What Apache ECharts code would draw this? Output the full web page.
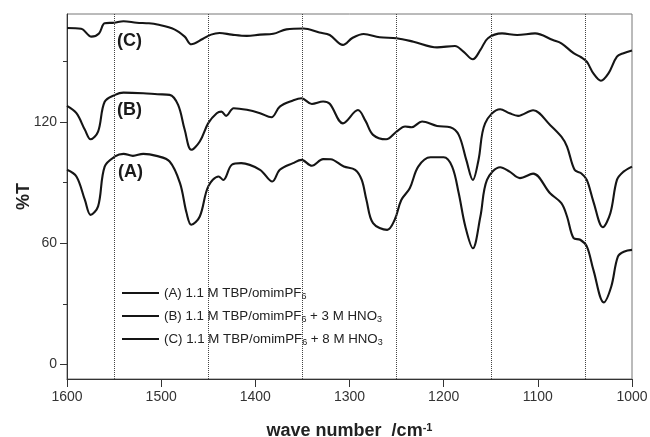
<!DOCTYPE html>
<html>
<head>
<meta charset="utf-8">
<script src="https://cdn.jsdelivr.net/npm/echarts@6/dist/echarts.min.js"></script>
<style>
html,body{margin:0;padding:0;background:#fff;}
#c{width:650px;height:437px;}
</style>
</head>
<body>
<div id="c"></div>
<script>
// ---- data ----
var xTicks = [1600, 1500, 1400, 1300, 1200, 1100, 1000];
var yMajorTicks = [0, 60, 120];
var yMinorTicks = [30, 90, 150];
var refLines = [1550, 1450, 1350, 1250, 1150, 1050];

var seriesNames = ['A', 'B', 'C'];

var aWave = [1600,1590,1581,1575,1567,1560,1549,1540,1530,1519,1505,1491,1480,1473,1468,1459,1450,1439,1434,1425,1415,1395,1382,1374,1360,1351,1340,1328,1320,1306,1294,1287,1282,1275,1260,1252,1245,1236,1227,1214,1200,1191,1184,1177,1169,1161,1154,1140,1130,1119,1105,1087,1075,1069,1062,1055,1048,1041,1030,1022,1015,1008,1000];
var aT    = [96.3,93,81.4,74,78.2,97.9,102.9,104.2,103.2,104.2,103.2,100.4,89.7,74.9,69.1,73.2,88.1,93,91.3,98.8,99.6,96.3,90.5,96.3,99.6,101.2,98.3,101.6,101.5,97.9,96.3,91.3,81.4,69.9,66.6,71.6,81.4,87.2,97.9,102.5,102.5,97.9,84.7,68.3,57.5,73.2,91.3,97.6,95.4,92.2,94.4,84.7,79.8,73.2,62.5,61.7,58.4,46.8,30.7,38.6,53.4,55.9,56.7];

var bWave = [1600,1590,1581,1575,1567,1560,1549,1540,1519,1504,1491,1482,1475,1468,1459,1450,1441,1436,1431,1423,1409,1395,1383,1374,1360,1351,1340,1328,1321,1307,1291,1283,1275,1261,1250,1241,1234,1223,1207,1193,1184,1176,1169,1163,1156,1140,1130,1121,1105,1087,1075,1069,1061,1054,1048,1041,1031,1023,1016,1009,1000];
var bT    = [127.9,124.3,116.1,111.4,115.2,130,133.4,134.5,134.2,133.7,133.4,128.4,116.1,106.2,110.3,119.4,124.3,125.1,123,126.8,126,124.3,122.3,127.6,130.6,131.7,128.9,130.1,129,119.3,125.9,120.5,113.6,111.4,115.2,117.7,117.4,120.2,118,117.4,113.6,101.2,91.3,101.2,119.3,126.3,124.3,123,125.8,118.5,112.7,107.8,96.3,94.6,91.3,80.6,67.9,74.8,91.3,95.4,97.9];

var cWave = [1600,1585,1574,1566,1560,1550,1540,1526,1513,1504,1486,1475,1468,1456,1447,1438,1425,1409,1395,1381,1367,1349,1332,1321,1307,1297,1285,1268,1250,1232,1207,1188,1179,1169,1161,1153,1138,1122,1103,1084,1075,1062,1054,1048,1041,1033,1025,1016,1009,1000];
var cT    = [166.5,166.1,162.2,163.8,168.8,169.1,169.8,169.1,168.8,168.2,165.8,162.2,158.4,161,163.2,164,163.2,162.6,163.2,163.6,165.8,166.2,164.2,163,158.1,161.5,163.5,161.9,161.4,159.7,156.9,157.6,154.8,151,155.6,161.4,163.8,163,163.8,160.5,158.9,154,152,149.8,144,140.4,144,152.3,154,155.3];

var legendTexts = {
  A: '(A) 1.1 M TBP/omimPF{s|6}',
  B: '(B) 1.1 M TBP/omimPF{s|6} + 3 M HNO{s|3}',
  C: '(C) 1.1 M TBP/omimPF{s|6} + 8 M HNO{s|3}'
};

function pairs(w, t) { return w.map(function (x, i) { return [x, t[i]]; }); }

var FONT = '"Liberation Sans", Arial, sans-serif';
var chart = echarts.init(document.getElementById('c'), null, {renderer: 'canvas'});

var lineBase = {
  type: 'line', showSymbol: false, symbol: 'none', smooth: 0.35,
  lineStyle: {color: '#151515', width: 2.1}, itemStyle: {color: '#151515'},
  animation: false, silent: true
};

var option = {
  backgroundColor: '#fff',
  animation: false,
  grid: {left: 67, right: 18, top: 14, bottom: 58, containLabel: false, outerBoundsMode: 'none',
    show: true, borderColor: '#777', borderWidth: 1, backgroundColor: 'transparent'},
  legend: {
    orient: 'vertical', left: 122, top: 285, padding: 0,
    itemWidth: 37, itemHeight: 2, itemGap: 7, icon: 'rect',
    data: seriesNames,
    formatter: function (n) { return legendTexts[n]; },
    textStyle: {fontFamily: FONT, fontSize: 13.3, color: '#222', lineHeight: 16,
      rich: {s: {fontFamily: FONT, fontSize: 9, color: '#222', lineHeight: 9, verticalAlign: 'bottom'}}}
  },
  xAxis: {
    type: 'value', min: 1000, max: 1600, interval: 100, inverse: true,
    axisLine: {show: true, onZero: false, lineStyle: {color: '#333', width: 1}},
    axisTick: {show: true, inside: false, length: 8, lineStyle: {color: '#333'}},
    axisLabel: {fontFamily: FONT, fontSize: 14, color: '#333', margin: 11,
      customValues: xTicks, formatter: function (v) { return String(v); }},
    splitLine: {show: false},
    name: 'wave number  /cm{sup|-1}',
    nameLocation: 'middle', nameGap: 43, nameMoveOverlap: false,
    nameTextStyle: {fontFamily: FONT, fontSize: 18, fontWeight: 'bold', color: '#222',
      rich: {sup: {fontFamily: FONT, fontSize: 11, fontWeight: 'bold', color: '#222', verticalAlign: 'top', lineHeight: 11}}}
  },
  yAxis: [{
    type: 'value', min: -7.2, max: 173.4,
    axisLine: {show: true, onZero: false, lineStyle: {color: '#333', width: 1}},
    axisTick: {show: true, inside: false, length: 7, customValues: yMajorTicks, lineStyle: {color: '#333'}},
    axisLabel: {fontFamily: FONT, fontSize: 14, color: '#333', margin: 10, customValues: yMajorTicks,
      formatter: function (v) { return String(v); }},
    splitLine: {show: false},
    name: '%T', nameLocation: 'middle', nameGap: 34, nameRotate: 90, nameMoveOverlap: false,
    nameTextStyle: {fontFamily: FONT, fontSize: 18, fontWeight: 'bold', color: '#222'}
  }, {
    type: 'value', min: -7.2, max: 173.4, position: 'left',
    axisLine: {show: false},
    axisTick: {show: true, inside: false, length: 4, customValues: yMinorTicks, lineStyle: {color: '#333'}},
    axisLabel: {show: false},
    splitLine: {show: false}
  }],
  series: [
    Object.assign({}, lineBase, {name: 'A', data: pairs(aWave, aT)}),
    Object.assign({}, lineBase, {name: 'B', data: pairs(bWave, bT)}),
    Object.assign({}, lineBase, {name: 'C', data: pairs(cWave, cT),
      markLine: {
        silent: true, symbol: ['none', 'none'], animation: false,
        label: {show: false},
        lineStyle: {type: 'dotted', color: '#444', width: 1},
        emphasis: {disabled: true},
        data: refLines.map(function (v) { return {xAxis: v}; })
      }})
  ],
  graphic: [
    {type: 'text', left: 117, top: 32, silent: true, style: {text: '(C)', font: 'bold 18px ' + FONT, fill: '#1a1a1a'}},
    {type: 'text', left: 117, top: 101, silent: true, style: {text: '(B)', font: 'bold 18px ' + FONT, fill: '#1a1a1a'}},
    {type: 'text', left: 118, top: 163, silent: true, style: {text: '(A)', font: 'bold 18px ' + FONT, fill: '#1a1a1a'}}
  ]
};
chart.setOption(option);
</script>
</body>
</html>
